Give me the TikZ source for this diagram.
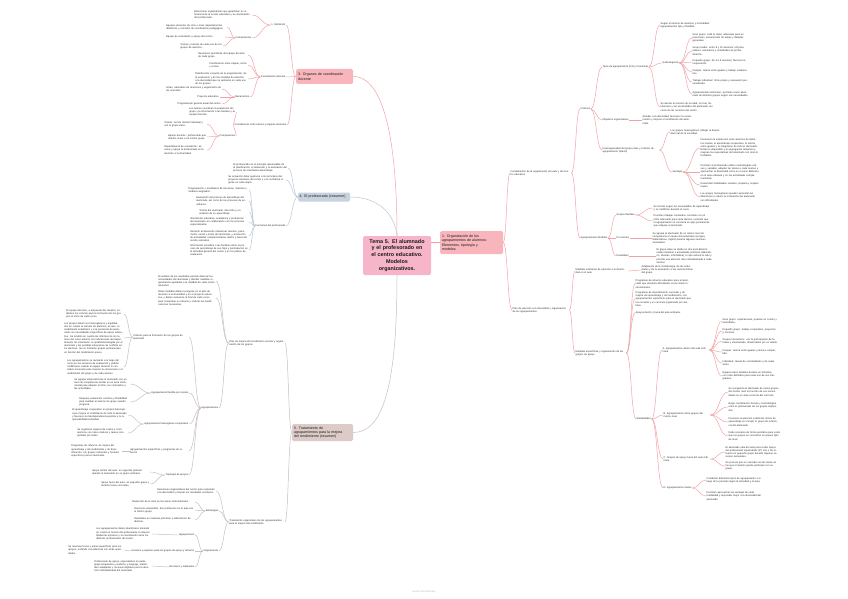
\documentclass[tikz,border=0pt]{standalone}
\usepackage{fontspec}
\setmainfont{Liberation Sans}
\usetikzlibrary{calc}
\definecolor{lnP}{HTML}{F2A3AA}
\definecolor{lnG}{HTML}{C9BFBB}
\definecolor{lnB}{HTML}{BCC7D4}
\definecolor{fC}{HTML}{F6B5C8}
\definecolor{fR}{HTML}{F8B6BC}
\definecolor{fB}{HTML}{C9D3E0}
\definecolor{fG}{HTML}{DCCBC7}
\definecolor{tx}{HTML}{2E2E2E}
\tikzset{
 txt/.style={font=\fontsize{2.5}{3.2}\selectfont, text=tx, inner sep=0.5pt, align=left},
 lfR/.style={txt, anchor=west, text width=#1},
 lfL/.style={txt, anchor=east, text width=#1},
 lbR/.style={txt, anchor=west},
 lbL/.style={txt, anchor=east},
 lp/.style={draw=lnP, line width=0.5pt},
 lg/.style={draw=lnG, line width=0.5pt},
 lb/.style={draw=lnB, line width=0.5pt},
 mainbox/.style={rounded corners=1.5pt, inner sep=1.5pt, align=left, font=\fontsize{3.6}{4.4}\selectfont, text=black!90},
}
\newcommand\cR[3]{\draw[#1] let \p1=(#2.east), \p2=(#3.west), \n1={max(abs(\x2-\x1)/2,1.5)} in (\p1) .. controls +(\n1,0) and +(-\n1,0) .. (\p2);}
\newcommand\cL[3]{\draw[#1] let \p1=(#2.west), \p2=(#3.east), \n1={max(abs(\x1-\x2)/2,1.5)} in (\p1) .. controls +(-\n1,0) and +(\n1,0) .. (\p2);}
\begin{document}
\begin{tikzpicture}[x=1pt,y=-1pt]
\useasboundingbox (0,0) rectangle (848,599);
\fill[white] (0,0) rectangle (848,599);

% ---------------- main nodes
\node[mainbox, fill=fC, minimum width=68pt, minimum height=39pt, text width=64pt, align=center, font=\fontsize{5.4}{6.9}\selectfont\bfseries] (C) at (397,255.5) {Tema 5. El alumnado\\y el profesorado en\\el centro educativo.\\Modelos\\organizativos.};
\node[mainbox, fill=fR, minimum width=63pt, minimum height=23pt, text width=59pt] (R0) at (471.5,242.5) {1. Organización de los\\agrupamientos de alumnos:\\Elementos, tipología y\\modelos.};
\node[mainbox, fill=fR, minimum width=57pt, minimum height=15pt, text width=53pt] (T0) at (324.5,76.5) {3. Órganos de coordinación\\docente};
\node[mainbox, fill=fB, minimum width=52pt, minimum height=9pt, text width=49pt] (P0) at (324,197) {4. El profesorado (resumen)};
\node[mainbox, fill=fG, minimum width=61pt, minimum height=17pt, text width=57pt] (B0) at (322.5,432.5) {5. Tratamiento de\\agrupamientos para la mejora\\del rendimiento (resumen)};

\draw[lp] (C.east |- R0.west) -- (R0.west);
\draw[lp] (T0.east) .. controls +(32,0) and +(0,-90) .. (C.north);
\draw[lb] (P0.east) .. controls +(30,0) and +(-2,-20) .. (C.north);
\draw[lg] (C.south) .. controls +(0,110) and +(30,0) .. (B0.east);

% ---------------- RIGHT branch
\node[lfR=60pt] (R1) at (510,173) {Fundamentos de la organización del aula y del centro educativo};
\node[lfR=56pt] (R2) at (512,310) {Plan de atención a la diversidad y organización de los agrupamientos};
\cR{lp}{R0}{R1}\cR{lp}{R0}{R2}
\node[lbR] (R11) at (580,109) {Criterios};
\node[lbR] (R12) at (580,238) {Agrupamientos flexibles};
\cR{lp}{R1}{R11}\cR{lp}{R1}{R12}
\node[lbR] (R111) at (602,67) {Tipos de agrupamiento (Coll y Colomina)};
\node[lbR] (R112) at (602,120) {Objetivos organizativos};
\node[lfR=56pt] (R113) at (602,150) {Heterogeneidad del grupo-clase y criterios de agrupamiento (Slavin)};
\cR{lp}{R11}{R111}\cR{lp}{R11}{R112}\cR{lp}{R11}{R113}
\node[lfR=56pt] (R1111) at (660,25) {Según el número de alumnos y la finalidad: agrupamientos fijos y flexibles.};
\node[lbR] (R1112) at (662,63) {Subcategorías};
\node[lfR=56pt] (R1113) at (660,107) {Se decide en función de la edad, el nivel, los intereses y las necesidades del alumnado, así como de los recursos del centro.};
\cR{lp}{R111}{R1111}\cR{lp}{R111}{R1112}\cR{lp}{R111}{R1113}
\node[lfR=56pt] (Sa) at (692,38) {Gran grupo: toda la clase; adecuado para exposiciones, presentación de temas y debates generales.};
\node[lfR=56pt] (Sb) at (692,51) {Grupo medio: entre 8 y 15 alumnos; útil para talleres, seminarios y actividades de profundización.};
\node[lfR=56pt] (Sc) at (692,62) {Pequeño grupo: de 3 a 6 alumnos; favorece la cooperación.};
\node[lfR=56pt] (Sd) at (692,72) {Parejas: tutoría entre iguales y trabajo colaborativo.};
\node[lfR=56pt] (Se) at (692,82) {Trabajo individual: ritmo propio y evaluación personalizada.};
\node[lfR=56pt] (Sf) at (692,94) {Agrupamientos interclase: permiten reunir alumnado de distintos grupos según sus necesidades.};
\cR{lp}{R1112}{Sa}\cR{lp}{R1112}{Sb}\cR{lp}{R1112}{Sc}\cR{lp}{R1112}{Sd}\cR{lp}{R1112}{Se}\cR{lp}{R1112}{Sf}
\node[lfR=50pt] (R1121) at (642,120) {Atender a la diversidad, favorecer la socialización y mejorar el rendimiento del alumnado.};
\cR{lp}{R112}{R1121}
\node[lfR=52pt] (R1131) at (670,132) {Los grupos heterogéneos reflejan la diversidad real de la sociedad.};
\node[lbR] (R1132) at (672,172) {Ventajas};
\cR{lp}{R113}{R1131}\cR{lp}{R113}{R1132}
\node[lfR=58pt] (V1) at (700,148) {Favorecen la interacción entre alumnos de distintos niveles, el aprendizaje cooperativo, la tutoría entre iguales y la integración de todo el alumnado. Evitan el etiquetado y la segregación temprana y mejoran las expectativas del alumnado con más dificultades.};
\node[lfR=58pt] (V2) at (700,172) {Permiten al profesorado utilizar metodologías activas y variadas, adaptar las tareas a cada alumno y aprovechar la diversidad como un recurso didáctico en el aula ordinaria y en las actividades complementarias.};
\node[lfR=58pt] (V3) at (700,185) {Desarrollan habilidades sociales, empatía y respeto mutuo.};
\node[lfR=58pt] (V4) at (700,197) {Los grupos homogéneos pueden aumentar las diferencias y reducir la motivación del alumnado con dificultades.};
\cR{lp}{R1132}{V1}\cR{lp}{R1132}{V2}\cR{lp}{R1132}{V3}\cR{lp}{R1132}{V4}
\node[lbR] (R121) at (616,215) {Grupos flexibles};
\node[lbR] (R122) at (616,238) {Por niveles};
\node[lbR] (R123) at (616,256) {Desdobles};
\cR{lp}{R12}{R121}\cR{lp}{R12}{R122}\cR{lp}{R12}{R123}
\node[lfR=56pt] (R1211) at (653,208) {Se forman según las necesidades de aprendizaje y se modifican durante el curso.};
\node[lfR=56pt] (R1212) at (653,221) {Permiten trabajar contenidos concretos con el ritmo adecuado para cada alumno, evitando que el agrupamiento se convierta en algo permanente que etiquete al alumnado.};
\node[lfR=56pt] (R1221) at (652,238) {Se agrupa al alumnado de un mismo nivel de competencia en áreas instrumentales (Lengua, Matemáticas, Inglés) durante algunas sesiones semanales.};
\node[lfR=56pt] (R1231) at (656,256) {El grupo-clase se divide en dos para determinadas materias o actividades prácticas (laboratorio, idiomas, informática), lo que reduce la ratio y permite una atención más individualizada a cada alumno.};
\cR{lp}{R121}{R1211}\cR{lp}{R121}{R1212}\cR{lp}{R122}{R1221}\cR{lp}{R123}{R1231}
\node[lfR=52pt] (R21) at (575,271) {Medidas ordinarias de atención a la diversidad en el aula};
\node[lfR=50pt] (R22) at (575,353) {Medidas específicas y organización de los grupos de apoyo};
\cR{lp}{R2}{R21}\cR{lp}{R2}{R22}
\node[lfR=54pt] (R211) at (641,270) {Adaptación de la metodología, de las actividades y de la evaluación a las características del grupo.};
\cR{lp}{R21}{R211}
\node[lfR=56pt] (R22a) at (635,284) {Programas de refuerzo educativo para el alumnado que presenta dificultades en las áreas instrumentales.};
\node[lfR=56pt] (R22b) at (635,299) {Programas de diversificación curricular y de mejora del aprendizaje y del rendimiento, con agrupamientos específicos para el alumnado que los necesita y un currículo organizado por ámbitos.};
\node[lbR] (R22c) at (635,313) {Apoyos dentro y fuera del aula ordinaria.};
\node[lbR] (R22d) at (636,419) {Modalidades};
\cR{lp}{R22}{R22a}\cR{lp}{R22}{R22b}\cR{lp}{R22}{R22c}\cR{lp}{R22}{R22d}
\node[lfR=46pt] (D1) at (662,350) {A. Agrupamientos dentro del aula ordinaria};
\node[lfR=46pt] (D2) at (663,415) {B. Agrupamientos entre grupos del mismo nivel};
\node[lfR=46pt] (D3) at (663,459) {C. Grupos de apoyo fuera del aula ordinaria};
\node[lbR] (D4) at (663,488) {D. Agrupamientos mixtos};
\cR{lp}{R22d}{D1}\cR{lp}{R22d}{D2}\cR{lp}{R22d}{D3}\cR{lp}{R22d}{D4}
\node[lfR=55pt] (M1) at (722,321) {Gran grupo: explicaciones, puestas en común y asambleas.};
\node[lfR=55pt] (M2) at (722,331) {Pequeño grupo: trabajo cooperativo, proyectos y rincones.};
\node[lfR=55pt] (M3) at (722,341) {Grupos interactivos: con la participación de familias y voluntariado, dinamizados por un adulto.};
\node[lfR=55pt] (M4) at (722,352) {Parejas: tutoría entre iguales y lectura compartida.};
\node[lfR=55pt] (M5) at (722,363) {Individual: tareas de consolidación y de evaluación.};
\node[lfR=55pt] (M6) at (722,376) {Equipos base estables durante un trimestre, con roles definidos para cada uno de sus integrantes.};
\cR{lp}{D1}{M1}\cR{lp}{D1}{M2}\cR{lp}{D1}{M3}\cR{lp}{D1}{M4}\cR{lp}{D1}{M5}\cR{lp}{D1}{M6}
\node[lfR=52pt] (N1) at (728,392) {Se reorganiza al alumnado de varios grupos del mismo nivel en función de sus necesidades en un área concreta del currículo.};
\node[lfR=52pt] (N2) at (728,407) {Exige coordinación horaria y metodológica entre el profesorado de los grupos implicados.};
\node[lfR=52pt] (N3) at (728,422) {Favorece la atención a distintos ritmos de aprendizaje sin romper el grupo de referencia del alumnado.};
\node[lfR=52pt] (N4) at (728,436) {Debe revisarse de forma periódica para evitar que los grupos se conviertan en grupos fijos de nivel.};
\cR{lp}{D2}{N1}\cR{lp}{D2}{N2}\cR{lp}{D2}{N3}\cR{lp}{D2}{N4}
\node[lfR=54pt] (O1) at (725,452) {El alumnado sale del aula para recibir apoyo del profesorado especialista (PT, AL) o de refuerzo en pequeño grupo durante algunas sesiones semanales.};
\node[lfR=54pt] (O2) at (725,466) {Se procura que no coincida con las áreas en las que el alumno puede participar con su grupo.};
\cR{lp}{D3}{O1}\cR{lp}{D3}{O2}
\node[lfR=55pt] (Q1) at (706,480) {Combinan diferentes tipos de agrupamiento a lo largo de la jornada según la actividad y el área.};
\node[lfR=55pt] (Q2) at (706,496) {Permiten aprovechar las ventajas de cada modalidad y responder mejor a la diversidad del alumnado.};
\cR{lp}{D4}{Q1}\cR{lp}{D4}{Q2}

% ---------------- TOP-LEFT branch
\node[lbL] (T1) at (286,25) {1. Definición};
\node[lbL] (T2) at (286,77) {Coordinación docente};
\node[lbL] (T3) at (287,125) {Coordinación entre tutores y equipos docentes};
\cL{lp}{T0}{T1}\cL{lp}{T0}{T2}\cL{lp}{T0}{T3}
\node[lfL=57pt] (T11) at (252,15) {Estructuras organizativas que garantizan la coherencia de la acción educativa y la coordinación del profesorado.};
\node[lbL] (T12) at (252,38) {Componentes};
\cL{lp}{T1}{T11}\cL{lp}{T1}{T12}
\node[lfL=60pt] (T121) at (227,27) {Equipos docentes de ciclo o nivel, departamentos didácticos y comisión de coordinación pedagógica.};
\node[lfL=58pt] (T122) at (225,37) {Equipo de orientación y apoyo del centro.};
\node[lfL=42pt] (T123) at (223,46) {Tutores y tutoras de cada uno de los grupos de alumnos.};
\cL{lp}{T12}{T121}\cL{lp}{T12}{T122}\cL{lp}{T12}{T123}
\node[lfL=49pt] (T21) at (248,55) {Reuniones periódicas del equipo docente de cada grupo.};
\node[lfL=38pt] (T22) at (248,65) {Coordinación entre etapas, ciclos y cursos.};
\node[lfL=52pt] (T23) at (248,79) {Planificación conjunta de la programación, de la evaluación y de las medidas de atención a la diversidad que se aplicarán en cada uno de los grupos.};
\node[lbL] (T24) at (250,97) {Mecanismos};
\cL{lp}{T2}{T21}\cL{lp}{T2}{T22}\cL{lp}{T2}{T23}\cL{lp}{T2}{T24}
\node[lfL=55pt] (T241) at (222,89) {Actas, calendario de reuniones y seguimiento de los acuerdos.};
\node[lbL] (T242) at (220,97) {Proyecto educativo.};
\node[lbL] (T243) at (222,104) {Programación general anual del centro.};
\cL{lp}{T24}{T241}\cL{lp}{T24}{T242}\cL{lp}{T24}{T243}
\node[lfL=46pt] (T31) at (236,112) {Los tutores coordinan la evaluación del grupo y la información a las familias y al equipo docente.};
\node[lbL] (T32) at (236,136) {Componentes};
\cL{lp}{T3}{T31}\cL{lp}{T3}{T32}
\node[lfL=42pt] (T321) at (207,124) {Tutoría: acción tutorial individual y con el grupo-clase.};
\node[lfL=38pt] (T322) at (207,137) {Equipo docente: profesorado que imparte clase a un mismo grupo.};
\node[lfL=42pt] (T323) at (207,150) {Departamento de orientación: asesora y apoya al profesorado en la atención a la diversidad.};
\cL{lp}{T32}{T321}\cL{lp}{T32}{T322}\cL{lp}{T32}{T323}

% ---------------- PROFESORADO branch
\node[lfL=54pt] (P1) at (288,168) {El profesorado es el principal responsable de la planificación, el desarrollo y la evaluación del proceso de enseñanza-aprendizaje.};
\node[lfL=57pt] (P2) at (286,180) {Su actuación debe ajustarse a los principios del proyecto educativo del centro y a la normativa vigente en cada etapa.};
\node[lbL] (P3) at (286,226) {Funciones del profesorado};
\cL{lb}{P0}{P1}\cL{lb}{P0}{P2}\cL{lb}{P0}{P3}
\node[lfL=60pt] (P31) at (249,190) {Programación y enseñanza de las áreas, materias y módulos asignados.};
\node[lfL=52pt] (P32) at (249,201) {Evaluación del proceso de aprendizaje del alumnado, así como de los procesos de enseñanza.};
\node[lfL=49pt] (P33) at (249,212) {Tutoría del alumnado, dirección y orientación de su aprendizaje.};
\node[lfL=58pt] (P34) at (249,222) {Orientación educativa, académica y profesional del alumnado, en colaboración con los servicios especializados.};
\node[lfL=58pt] (P35) at (249,236) {Atención al desarrollo intelectual, afectivo, psicomotriz, social y moral del alumnado, y promoción de actividades complementarias dentro y fuera del recinto educativo.};
\node[lfL=58pt] (P36) at (249,250) {Información periódica a las familias sobre el proceso de aprendizaje de sus hijos y participación en la actividad general del centro y en los planes de evaluación.};
\cL{lb}{P3}{P31}\cL{lb}{P3}{P32}\cL{lb}{P3}{P33}\cL{lb}{P3}{P34}\cL{lb}{P3}{P35}\cL{lb}{P3}{P36}

% ---------------- BOTTOM branch
\node[lfL=55pt] (B1) at (285,343) {Plan de mejora del rendimiento escolar y organización de los grupos};
\node[lfL=55pt] (B2) at (285,522) {Tratamiento organizativo de los agrupamientos para la mejora del rendimiento};
\cL{lg}{B0}{B1}\cL{lg}{B0}{B2}
\node[lfL=57pt] (B11) at (216,281) {El análisis de los resultados permite detectar las necesidades del alumnado y diseñar medidas organizativas ajustadas a la realidad de cada centro educativo.};
\node[lfL=57pt] (B12) at (216,298) {Estas medidas deben recogerse en el plan de atención a la diversidad y en el proyecto educativo, y deben evaluarse al final de cada curso para comprobar su eficacia y realizar las modificaciones necesarias.};
\node[lbL] (B13) at (219,408) {Agrupamientos};
\cL{lg}{B1}{B11}\cL{lg}{B1}{B12}\cL{lg}{B1}{B13}
\node[lfL=55pt] (B131) at (189,337) {Criterios para la formación de los grupos de alumnado};
\node[lbL] (B132) at (189,393) {Agrupamiento flexible por niveles};
\node[lbL] (B133) at (189,424) {Agrupamiento heterogéneo cooperativo};
\node[lfL=58pt] (B134) at (189,451) {Agrupamientos específicos y programas de refuerzo};
\node[lbL] (B135) at (189,475) {Tipología de apoyos};
\cL{lg}{B13}{B131}\cL{lg}{B13}{B132}\cL{lg}{B13}{B133}\cL{lg}{B13}{B134}\cL{lg}{B13}{B135}
\node[lfL=57pt] (B1311) at (124,314) {El equipo directivo, a propuesta del claustro, establece los criterios para la formación de los grupos al inicio de cada curso.};
\node[lfL=59pt] (B1312) at (124,338) {Los grupos deben ser heterogéneos y equilibrados en cuanto al número de alumnos, al sexo, al rendimiento académico y a la presencia de alumnado con necesidades específicas de apoyo educativo. Se tendrán en cuenta los informes de los tutores del curso anterior, las indicaciones del departamento de orientación, la optatividad elegida por el alumnado y las posibles situaciones de conflicto entre alumnos. No se formarán grupos permanentes en función del rendimiento previo.};
\node[lfL=56pt] (B1313) at (124,367) {Los agrupamientos se revisarán a lo largo del curso en las sesiones de evaluación y podrán modificarse cuando el equipo docente lo considere necesario para mejorar la convivencia o el rendimiento del grupo y de cada alumno.};
\cL{lg}{B131}{B1311}\cL{lg}{B131}{B1312}\cL{lg}{B131}{B1313}
\node[lfL=55pt] (B1321) at (130,384) {Se agrupa temporalmente al alumnado con un nivel de competencia similar en un área instrumental para adaptar el ritmo, los contenidos y las actividades.};
\node[lfL=50pt] (B1322) at (130,402) {Requiere evaluación continua y flexibilidad para cambiar al alumno de grupo cuando progresa.};
\cL{lg}{B132}{B1321}\cL{lg}{B132}{B1322}
\node[lfL=55pt] (B1331) at (128,415) {El aprendizaje cooperativo en grupos heterogéneos mejora el rendimiento de todo el alumnado y favorece la interdependencia positiva y la responsabilidad individual.};
\node[lfL=50pt] (B1332) at (128,433) {Se organizan equipos de cuatro o cinco alumnos con roles rotativos y tareas compartidas por todos.};
\cL{lg}{B133}{B1331}\cL{lg}{B133}{B1332}
\node[lfL=50pt] (B1341) at (122,451) {Programas de refuerzo, de mejora del aprendizaje y del rendimiento y de diversificación, con grupos reducidos y horarios específicos para el alumnado.};
\cL{lg}{B134}{B1341}
\node[lfL=57pt] (B1351) at (150,472) {Apoyo dentro del aula: un segundo profesor atiende al alumnado en su grupo ordinario.};
\node[lfL=48pt] (B1352) at (150,484) {Apoyo fuera del aula: en pequeño grupo y durante horas concretas.};
\cL{lg}{B135}{B1351}\cL{lg}{B135}{B1352}
\node[lfL=58pt] (B21) at (216,491) {Decisiones organizativas del centro para responder a la diversidad y mejorar los resultados escolares.};
\node[lbL] (B22) at (219,511) {Estrategias};
\node[lbL] (B23) at (219,551) {Organización};
\cL{lg}{B2}{B21}\cL{lg}{B2}{B22}\cL{lg}{B2}{B23}
\node[lfL=62pt] (B221) at (195,502) {Reducción de la ratio en las áreas instrumentales.};
\node[lfL=60pt] (B222) at (195,510) {Docencia compartida: dos profesores en el aula con el mismo grupo.};
\node[lfL=60pt] (B223) at (195,520) {Desdobles en materias prácticas y laboratorios de idiomas.};
\cL{lg}{B22}{B221}\cL{lg}{B22}{B222}\cL{lg}{B22}{B223}
\node[lbL] (B231) at (195,535) {Agrupaciones};
\node[lbL] (B232) at (195,551) {Horarios y espacios para los grupos de apoyo y refuerzo};
\node[lbL] (B233) at (195,567) {Recursos y materiales};
\cL{lg}{B23}{B231}\cL{lg}{B23}{B232}\cL{lg}{B23}{B233}
\node[lfL=55pt] (B2311) at (152,534) {Los agrupamientos deben planificarse teniendo en cuenta el horario del profesorado, la disponibilidad de espacios y la coordinación entre los distintos profesionales del centro.};
\node[lfL=55pt] (B2321) at (124,550) {Se reservan horas y aulas específicas para los apoyos, evitando coincidencias con otras actividades.};
\node[lfL=57pt] (B2331) at (152,566) {Profesorado de apoyo, especialistas en pedagogía terapéutica y audición y lenguaje, materiales adaptados y recursos digitales para la atención individualizada del alumnado.};
\cL{lg}{B231}{B2311}\cL{lg}{B232}{B2321}\cL{lg}{B233}{B2331}

% footer
\node[txt, text=black!30, anchor=center] (foot) at (424,592) {Hecho con GoConqr};
\end{tikzpicture}
\end{document}
